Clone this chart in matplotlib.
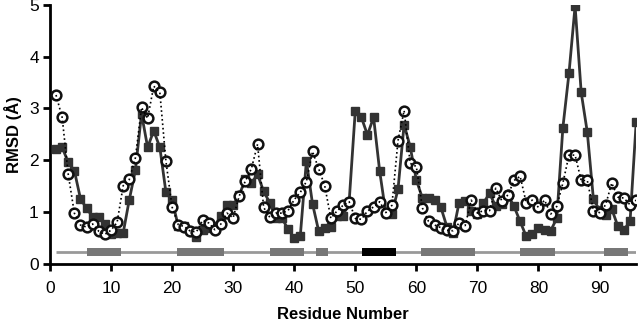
import numpy as np
import matplotlib.pyplot as plt
from matplotlib.patches import Rectangle

plt.rcParams['font.family'] = ['Liberation Sans', 'DejaVu Sans']

residue = np.arange(1, 97)

# RMSD, filled squares (solid line)
rmsd_sq = [2.22, 2.25, 1.96, 1.80, 1.26, 1.07, 0.91, 0.91, 0.77, 0.58,
           0.60, 0.60, 1.24, 1.81, 2.90, 2.25, 2.57, 2.25, 1.38, 1.23,
           0.74, 0.74, 0.64, 0.52, 0.65, 0.69, 0.73, 0.93, 1.13, 1.13,
           1.33, 1.63, 1.56, 1.73, 1.40, 1.18, 0.88, 0.88, 0.67, 0.50,
           0.54, 1.99, 1.16, 0.64, 0.69, 0.72, 0.93, 0.93, 1.20, 2.95,
           2.83, 2.49, 2.83, 1.79, 0.98, 0.97, 1.44, 2.69, 2.26, 1.62,
           1.27, 1.27, 1.23, 1.10, 0.72, 0.60, 1.18, 1.22, 1.02, 0.96,
           1.18, 1.36, 1.11, 1.16, 1.33, 1.11, 0.82, 0.53, 0.57, 0.69,
           0.66, 0.64, 0.88, 2.63, 3.68, 4.98, 3.31, 2.54, 1.25, 1.04,
           0.95, 1.06, 0.73, 0.66, 0.82, 2.73]

# RMSD, open circles (dotted line)
rmsd_ci = [3.26, 2.83, 1.73, 0.98, 0.75, 0.71, 0.77, 0.63, 0.57, 0.65,
           0.80, 1.51, 1.63, 2.05, 3.02, 2.81, 3.43, 3.31, 1.98, 1.10,
           0.76, 0.72, 0.63, 0.62, 0.84, 0.79, 0.66, 0.77, 0.98, 0.89,
           1.31, 1.60, 1.84, 2.31, 1.09, 0.90, 0.98, 0.98, 1.03, 1.24,
           1.38, 1.59, 2.17, 1.84, 1.51, 0.88, 1.02, 1.13, 1.20, 0.88,
           0.86, 1.02, 1.10, 1.20, 0.99, 1.13, 2.38, 2.96, 1.94, 1.88,
           1.08, 0.82, 0.75, 0.70, 0.65, 0.64, 0.79, 0.74, 1.23, 0.98,
           1.03, 1.03, 1.46, 1.22, 1.33, 1.61, 1.69, 1.18, 1.23, 1.09,
           1.23, 0.96, 1.11, 1.56, 2.10, 2.10, 1.61, 1.61, 1.03, 0.99,
           1.14, 1.56, 1.29, 1.27, 1.14, 1.23]

# secondary structure (start, end) in residue units
helices = [(6.0, 11.6), (20.8, 28.5), (36.1, 41.6), (43.6, 45.6),
           (60.8, 69.6), (76.9, 82.7), (90.8, 94.6)]
strands = [(51.1, 56.6)]
ss_range = (1.0, 96.2)

fig, ax = plt.subplots(figsize=(6.4, 3.25), dpi=100)
fig.subplots_adjust(left=0.078, right=0.994, bottom=0.188, top=0.985)

# secondary structure track
ss_y, ss_h = 0.23, 0.17
ax.plot(ss_range, [ss_y, ss_y], color='#999999', lw=2, zorder=1, solid_capstyle='butt')
for a, b in helices:
    ax.add_patch(Rectangle((a, ss_y - ss_h / 2), b - a, ss_h, color='#777777', zorder=2, lw=0))
for a, b in strands:
    ax.add_patch(Rectangle((a, ss_y - ss_h / 2), b - a, ss_h, color='black', zorder=2, lw=0))

# squares
ax.plot(residue, rmsd_sq, '-', color='#333333', lw=2, marker='s', ms=6.3,
        mfc='#333333', mec='#333333', zorder=3)
# special filled circle at residue 75
ax.plot(residue[74], rmsd_sq[74], 'o', color='#222222', ms=7.5, zorder=4)

# circles: markers, then dotted line over them
ax.plot(residue, rmsd_ci, 'o', ms=7, mfc='white', mec='#111111', mew=1.8, zorder=5)
ax.plot(residue, rmsd_ci, ':', color='black', lw=1.2, zorder=6)

ax.set_xlim(0, 96)
ax.set_ylim(0, 5)
ax.set_xticks(np.arange(0, 100, 10))
ax.set_yticks(np.arange(0, 6, 1))
for s in ['top', 'right']:
    ax.spines[s].set_visible(False)
for s in ['left', 'bottom']:
    ax.spines[s].set_linewidth(2)
ax.tick_params(axis='both', width=2, length=5, labelsize=12.5, direction='out')
ax.tick_params(axis='x', pad=7)
ax.tick_params(axis='y', pad=3)
ax.set_xlabel('Residue Number', fontsize=12, fontweight='bold', labelpad=8)
ax.set_ylabel('RMSD (Å)', fontsize=12, fontweight='bold', labelpad=5)

fig.savefig('out.png', dpi=100)
